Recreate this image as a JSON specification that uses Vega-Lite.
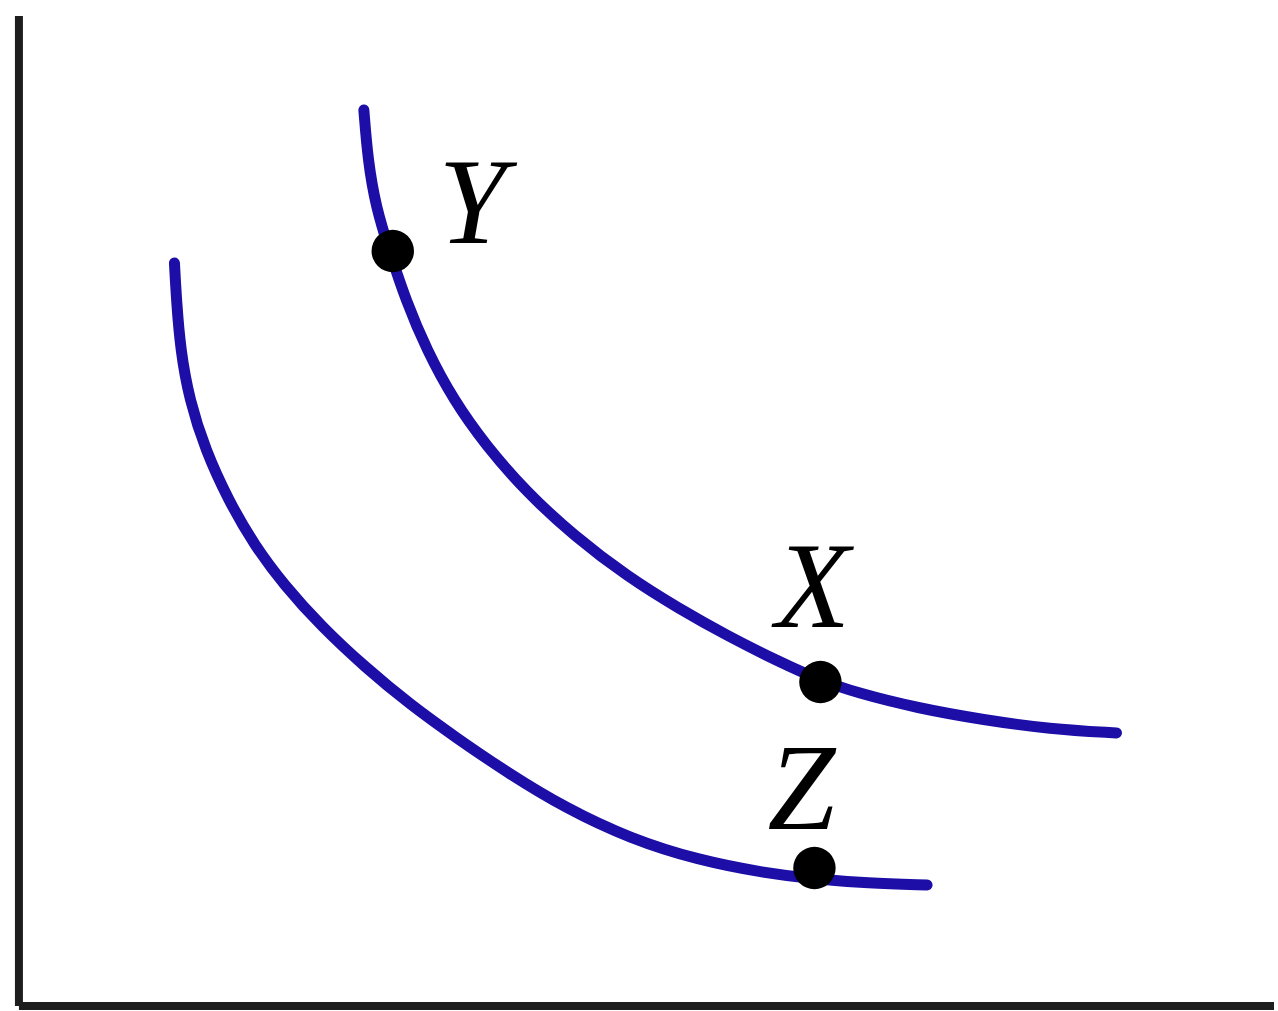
{
  "$schema": "https://vega.github.io/schema/vega-lite/v6.json",
  "width": 1278,
  "height": 1011,
  "autosize": {"type": "fit", "contains": "padding"},
  "padding": 0,
  "background": "white",
  "config": {"view": {"stroke": null}},
  "datasets": {
    "curves": [
      {"curve": "U1", "i": 0, "x": 365, "y": 110},
      {"curve": "U1", "i": 1, "x": 369, "y": 160},
      {"curve": "U1", "i": 2, "x": 377, "y": 207},
      {"curve": "U1", "i": 3, "x": 391, "y": 252},
      {"curve": "U1", "i": 4, "x": 407, "y": 300},
      {"curve": "U1", "i": 5, "x": 428, "y": 350},
      {"curve": "U1", "i": 6, "x": 455, "y": 400},
      {"curve": "U1", "i": 7, "x": 487, "y": 445},
      {"curve": "U1", "i": 8, "x": 528, "y": 492},
      {"curve": "U1", "i": 9, "x": 576, "y": 536},
      {"curve": "U1", "i": 10, "x": 630, "y": 577},
      {"curve": "U1", "i": 11, "x": 680, "y": 608},
      {"curve": "U1", "i": 12, "x": 730, "y": 636},
      {"curve": "U1", "i": 13, "x": 780, "y": 661},
      {"curve": "U1", "i": 14, "x": 822, "y": 680},
      {"curve": "U1", "i": 15, "x": 860, "y": 693},
      {"curve": "U1", "i": 16, "x": 920, "y": 708},
      {"curve": "U1", "i": 17, "x": 987, "y": 720},
      {"curve": "U1", "i": 18, "x": 1053, "y": 729},
      {"curve": "U1", "i": 19, "x": 1120, "y": 733},
      {"curve": "U2", "i": 0, "x": 175, "y": 263},
      {"curve": "U2", "i": 1, "x": 177, "y": 300},
      {"curve": "U2", "i": 2, "x": 181, "y": 350},
      {"curve": "U2", "i": 3, "x": 190, "y": 400},
      {"curve": "U2", "i": 4, "x": 206, "y": 450},
      {"curve": "U2", "i": 5, "x": 229, "y": 500},
      {"curve": "U2", "i": 6, "x": 255, "y": 545},
      {"curve": "U2", "i": 7, "x": 285, "y": 585},
      {"curve": "U2", "i": 8, "x": 322, "y": 626},
      {"curve": "U2", "i": 9, "x": 366, "y": 667},
      {"curve": "U2", "i": 10, "x": 412, "y": 705},
      {"curve": "U2", "i": 11, "x": 458, "y": 738},
      {"curve": "U2", "i": 12, "x": 508, "y": 772},
      {"curve": "U2", "i": 13, "x": 567, "y": 808},
      {"curve": "U2", "i": 14, "x": 633, "y": 839},
      {"curve": "U2", "i": 15, "x": 700, "y": 860},
      {"curve": "U2", "i": 16, "x": 767, "y": 873},
      {"curve": "U2", "i": 17, "x": 817, "y": 879},
      {"curve": "U2", "i": 18, "x": 870, "y": 883},
      {"curve": "U2", "i": 19, "x": 930, "y": 885}
    ],
    "points": [
      {"name": "Y", "x": 394, "y": 251, "lx": 440, "ly": 243},
      {"name": "X", "x": 823, "y": 682, "lx": 778, "ly": 627},
      {"name": "Z", "x": 817, "y": 868, "lx": 770, "ly": 829}
    ],
    "axes": [
      {"x": 19, "y": 16, "x2": 19, "y2": 1006},
      {"x": 19, "y": 1006, "x2": 1278, "y2": 1006}
    ]
  },
  "layer": [
    {
      "data": {"name": "axes"},
      "mark": {"type": "rule", "color": "#1e1e1e", "strokeWidth": 8},
      "encoding": {
        "x": {"field": "x", "type": "quantitative", "scale": {"domain": [0, 1278], "nice": false, "zero": false}, "axis": null},
        "y": {"field": "y", "type": "quantitative", "scale": {"domain": [1011, 0], "nice": false, "zero": false}, "axis": null},
        "x2": {"field": "x2"},
        "y2": {"field": "y2"}
      }
    },
    {
      "data": {"name": "curves"},
      "mark": {"type": "line", "color": "#1c0ea6", "strokeWidth": 11, "strokeCap": "round", "interpolate": "basis"},
      "encoding": {
        "x": {"field": "x", "type": "quantitative"},
        "y": {"field": "y", "type": "quantitative"},
        "detail": {"field": "curve"},
        "order": {"field": "i"}
      }
    },
    {
      "data": {"name": "points"},
      "mark": {"type": "circle", "color": "#000000", "opacity": 1, "size": 1800},
      "encoding": {
        "x": {"field": "x", "type": "quantitative"},
        "y": {"field": "y", "type": "quantitative"}
      }
    },
    {
      "data": {"name": "points"},
      "mark": {"type": "text", "font": "Liberation Serif", "fontStyle": "italic", "fontSize": 122, "align": "left", "baseline": "alphabetic", "color": "#000000"},
      "encoding": {
        "x": {"field": "lx", "type": "quantitative"},
        "y": {"field": "ly", "type": "quantitative"},
        "text": {"field": "name"}
      }
    }
  ]
}
